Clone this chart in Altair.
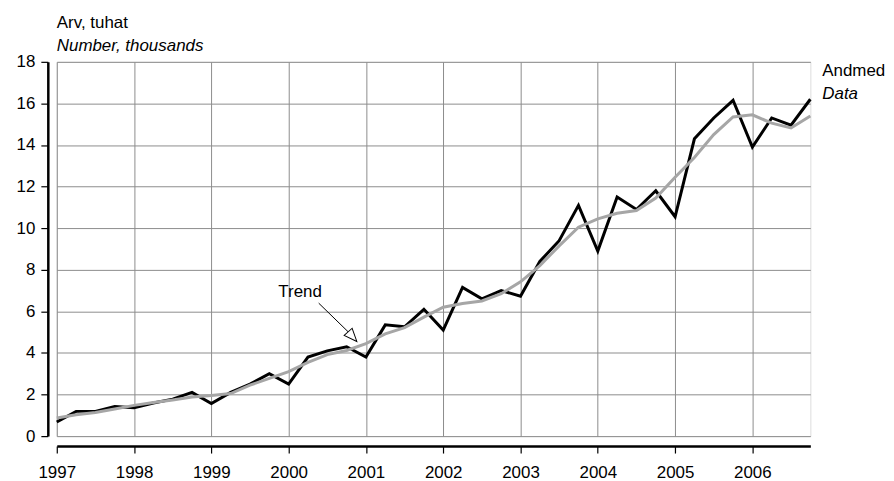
import altair as alt
import pandas as pd

# ---- data -------------------------------------------------------------
years = list(range(1997, 2007))
quarter_offsets = [0.0, 0.25, 0.5, 0.75]
t = [y + q for y in years for q in quarter_offsets]

data_values = [0.68, 1.19, 1.19, 1.43, 1.36, 1.59, 1.78, 2.10,
               1.57, 2.10, 2.50, 3.00, 2.50, 3.80, 4.10, 4.30,
               3.80, 5.35, 5.26, 6.10, 5.10, 7.15, 6.60, 7.00,
               6.73, 8.40, 9.40, 11.10, 8.90, 11.50, 10.90, 11.80,
               10.55, 14.30, 15.30, 16.15, 13.90, 15.30, 14.95, 16.20]

trend_values = [0.87, 1.03, 1.14, 1.30, 1.48, 1.62, 1.74, 1.88,
                1.95, 2.05, 2.45, 2.78, 3.10, 3.55, 3.92, 4.12,
                4.45, 4.92, 5.22, 5.72, 6.20, 6.38, 6.50, 6.85,
                7.42, 8.20, 9.15, 10.05, 10.45, 10.72, 10.85, 11.45,
                12.45, 13.40, 14.50, 15.35, 15.45, 15.05, 14.82, 15.40]

y_ticks = list(range(0, 19, 2))

title_lines = ["Arv, tuhat", "Number, thousands"]
series_lines = ["Andmed", "Data"]
trend_label = "Trend"
# annotation anchor points (data coordinates)
trend_text_pos = (2000.148, 6.71)
arrow_start = (2000.389, 6.395)
arrow_end = (2000.769, 5.02)
arrow_head = (2000.826, 4.784)

FONT = "Liberation Sans"
GRID = "#8c8c8c"

df_data = pd.DataFrame({"t": t, "v": data_values})
df_trend = pd.DataFrame({"t": t, "v": trend_values})

x_enc = alt.X("t:Q",
              scale=alt.Scale(domain=[1997, 2006.75], nice=False, zero=False),
              axis=alt.Axis(values=years, format="d", title=None, grid=True,
                            gridColor=GRID, gridWidth=1, offset=10,
                            domainColor="black", domainWidth=2.5,
                            tickColor="black", tickSize=7, tickWidth=1.2,
                            labelFont=FONT, labelFontSize=17, labelColor="black",
                            labelPadding=12, labelFlush=False, labelOverlap=False))
y_enc = alt.Y("v:Q",
              scale=alt.Scale(domain=[0, 18], nice=False),
              axis=alt.Axis(values=y_ticks, title=None, grid=True,
                            gridColor=GRID, gridWidth=1, offset=9,
                            domainColor="black", domainWidth=2.5,
                            tickColor="black", tickSize=7, tickWidth=1.2,
                            labelFont=FONT, labelFontSize=17, labelColor="black",
                            labelPadding=6, labelFlush=False, labelOverlap=False))

line_data = alt.Chart(df_data).mark_line(color="black", strokeWidth=3).encode(x=x_enc, y=y_enc)
line_trend = alt.Chart(df_trend).mark_line(color="#a6a6a6", strokeWidth=3).encode(x="t:Q", y="v:Q")

df_arrow = pd.DataFrame({"t": [arrow_start[0]], "v": [arrow_start[1]],
                         "t2": [arrow_end[0]], "v2": [arrow_end[1]]})
arrow_line = alt.Chart(df_arrow).mark_rule(color="black", strokeWidth=1).encode(
    x="t:Q", y="v:Q", x2="t2:Q", y2="v2:Q")

df_head = pd.DataFrame({"t": [arrow_head[0]], "v": [arrow_head[1]]})
arrow_tip = alt.Chart(df_head).mark_point(
    shape="M0,-1L0.83,1L-0.83,1Z", filled=True, color="white", fill="white",
    stroke="black", strokeWidth=1, size=169, angle=138, opacity=1
).encode(x="t:Q", y="v:Q")

df_tlabel = pd.DataFrame({"t": [trend_text_pos[0]], "v": [trend_text_pos[1]], "label": [trend_label]})
trend_text = alt.Chart(df_tlabel).mark_text(
    font=FONT, fontSize=17, align="center", baseline="alphabetic", color="black"
).encode(x="t:Q", y="v:Q", text="label:N")

def free_text(label, px, py, italic=False):
    return alt.Chart(pd.DataFrame({"label": [label]})).mark_text(
        font=FONT, fontSize=17, align="left", baseline="alphabetic", color="black",
        fontStyle="italic" if italic else "normal"
    ).encode(x=alt.value(px), y=alt.value(py), text="label:N")

t1 = free_text(title_lines[0], 0, -34)
t2 = free_text(title_lines[1], 0, -11, italic=True)
s1 = free_text(series_lines[0], 769, 14)
s2 = free_text(series_lines[1], 769, 37, italic=True)

chart = alt.layer(line_data, line_trend, arrow_line, arrow_tip, trend_text, t1, t2, s1, s2).properties(
    width=757, height=376,
    autosize=alt.AutoSizeParams(type="none"),
    padding={"left": 49, "top": 53, "right": 76, "bottom": 44},
).configure_view(stroke=GRID, strokeWidth=1).configure(background="white")

chart.save("out.html", embed_options={"renderer": "svg", "actions": False})
